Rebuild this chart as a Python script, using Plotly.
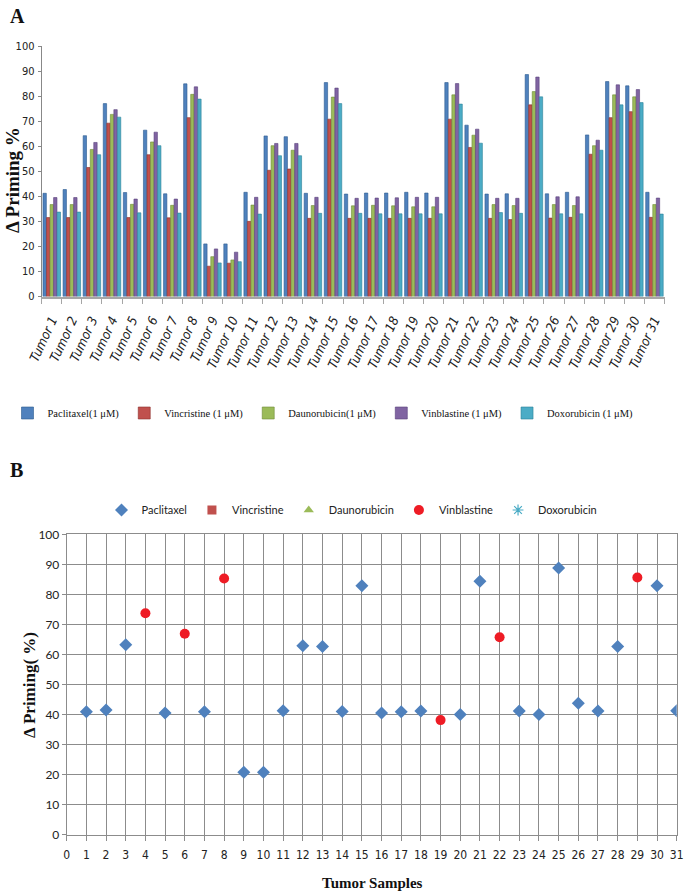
import plotly.graph_objects as go

# ---------------- Data: panel A (bar chart) ----------------
tumors = [f"Tumor {i}" for i in range(1, 32)]
paclitaxel_a = [41.2, 42.7, 64.2, 77.0, 41.5, 66.4, 41.0, 84.9, 21.0, 21.0, 41.6, 64.1, 63.8, 41.2, 85.4, 40.9,
                41.3, 41.3, 41.6, 41.3, 85.4, 68.4, 40.9, 41.0, 88.6, 41.0, 41.6, 64.5, 85.8, 84.1, 41.6]
vincristine_a = [31.5, 31.5, 51.5, 69.2, 31.5, 56.6, 31.4, 71.4, 12.1, 13.3, 30.0, 50.4, 50.9, 31.2, 70.8, 31.2,
                 31.2, 31.2, 31.2, 31.2, 70.8, 59.5, 31.2, 30.7, 76.5, 31.3, 31.6, 56.8, 71.4, 73.8, 31.6]
daunorubicin_a = [36.7, 36.7, 58.7, 72.7, 36.8, 61.7, 36.4, 80.7, 15.9, 14.6, 36.5, 60.2, 58.4, 36.3, 79.6, 36.2,
                  36.4, 36.2, 35.8, 35.8, 80.5, 64.4, 36.7, 36.3, 81.8, 36.7, 36.3, 60.2, 80.5, 79.7, 36.7]
vinblastine_a = [39.5, 39.5, 61.5, 74.6, 38.9, 65.6, 38.9, 83.7, 19.0, 17.7, 39.6, 61.1, 61.1, 39.6, 83.2, 39.2,
                 39.3, 39.4, 39.6, 39.6, 85.0, 66.8, 39.2, 39.2, 87.6, 39.8, 39.8, 62.4, 84.5, 82.6, 39.3]
doxorubicin_a = [33.7, 33.7, 56.6, 71.6, 33.4, 60.2, 33.3, 78.8, 13.4, 13.9, 32.9, 56.2, 56.2, 33.2, 77.0, 33.2,
                 33.0, 33.0, 33.0, 33.0, 76.8, 61.2, 33.5, 33.2, 79.7, 33.0, 33.0, 58.4, 76.5, 77.4, 32.9]
names_a = ["Paclitaxel(1 μM)", "Vincristine (1 μM)", "Daunorubicin(1 μM)", "Vinblastine (1 μM)", "Doxorubicin (1 μM)"]

# ---------------- Data: panel B (scatter) ----------------
pac_x = [1, 2, 3, 5, 7, 9, 10, 11, 12, 13, 14, 15, 16, 17, 18, 20, 21, 23, 24, 25, 26, 27, 28, 30, 31]
pac_y = [40.9, 41.5, 63.2, 40.5, 40.9, 20.7, 20.7, 41.2, 62.9, 62.6, 41.0, 82.9, 40.5, 40.9, 41.1, 40.0, 84.4,
         41.1, 40.0, 88.8, 43.7, 41.1, 62.6, 82.9, 41.2]
vbl_x = [4, 6, 8, 19, 22, 29]
vbl_y = [73.7, 66.9, 85.3, 38.1, 65.7, 85.6]
# series present in the legend only (no plotted points)
vcr_x, vcr_y = [], []
dnr_x, dnr_y = [], []
dox_x, dox_y = [], []

colors = ["#4F81BD", "#C0504D", "#9BBB59", "#8064A2", "#4BACC6"]
edges = ["#2C5A8E", "#8C2F2C", "#6E8C37", "#573F7A", "#2A8199"]

W, H = 685, 895
def px(x): return x / W
def py(y): return 1 - y / H
def keep(v): return v if len(v) else [None]

NARROW = "Liberation Sans Narrow, DejaVu Sans Condensed, Roboto Condensed, Arial Narrow, Liberation Sans, sans-serif"
SERIF = "Liberation Serif, Times New Roman, serif"
SANS = "Lato, Carlito, Calibri, sans-serif"

fig = go.Figure()
for vals, nm, c, e in zip([paclitaxel_a, vincristine_a, daunorubicin_a, vinblastine_a, doxorubicin_a],
                          names_a, colors, edges):
    fig.add_trace(go.Bar(x=tumors, y=vals, name=nm, marker=dict(color=c, line=dict(color=e, width=0.6)),
                         xaxis="x", yaxis="y", legend="legend"))

fig.add_trace(go.Scatter(x=pac_x, y=pac_y, mode="markers", name="Paclitaxel",
                         marker=dict(symbol="diamond", size=10, color="#4F81BD"),
                         xaxis="x2", yaxis="y2", legend="legend2"))
fig.add_trace(go.Scatter(x=keep(vcr_x), y=keep(vcr_y), mode="markers", name="Vincristine",
                         marker=dict(symbol="square", size=9, color="#C0504D"),
                         xaxis="x2", yaxis="y2", legend="legend2"))
fig.add_trace(go.Scatter(x=keep(dnr_x), y=keep(dnr_y), mode="markers", name="Daunorubicin",
                         marker=dict(symbol="triangle-up", size=9, color="#9BBB59"),
                         xaxis="x2", yaxis="y2", legend="legend2"))
fig.add_trace(go.Scatter(x=vbl_x, y=vbl_y, mode="markers", name="Vinblastine",
                         marker=dict(symbol="circle", size=10, color="#EE1C25"),
                         xaxis="x2", yaxis="y2", legend="legend2"))
fig.add_trace(go.Scatter(x=keep(dox_x), y=keep(dox_y), mode="markers", name="Doxorubicin",
                         marker=dict(symbol="asterisk-open", size=9, color="#4BACC6",
                                     line=dict(color="#4BACC6", width=1.2)),
                         xaxis="x2", yaxis="y2", legend="legend2"))

fig.update_layout(
    template="none",
    width=W, height=H, margin=dict(l=0, r=0, t=0, b=0, autoexpand=False),
    paper_bgcolor="white", plot_bgcolor="white",
    barmode="group", bargap=0.12, bargroupgap=0.05,
    showlegend=True,
    xaxis=dict(domain=[px(41.7), px(664.5)], anchor="y", type="category", automargin=False,
               showline=True, linecolor="#A6A6A6", linewidth=2,
               ticks="outside", tickson="boundaries", ticklen=5, tickcolor="#A6A6A6",
               ticklabelstandoff=9,
               tickangle=-65, tickfont=dict(family=NARROW, size=13, color="#222", style="italic"),
               showgrid=False),
    yaxis=dict(domain=[py(296.5), py(46)], anchor="x", range=[0, 100], dtick=10, automargin=False,
               showline=True, linecolor="#888", linewidth=1, ticks="outside", ticklen=3,
               tickcolor="#888", showgrid=False, zeroline=False, ticklabelstandoff=1,
               tickfont=dict(family=NARROW, size=11, color="#222")),
    xaxis2=dict(domain=[px(66.7), px(676.7)], anchor="y2", range=[0, 31], dtick=1, automargin=False,
                showgrid=True, gridcolor="#8C8C8C", gridwidth=1, zeroline=False,
                showline=True, linecolor="#8C8C8C", mirror=True,
                ticks="outside", ticklen=5, tickcolor="#8C8C8C", ticklabelstandoff=4,
                tickfont=dict(family=NARROW, size=12, color="#222")),
    yaxis2=dict(domain=[py(834.5), py(534.3)], anchor="x2", range=[0, 100], dtick=10, automargin=False,
                showgrid=True, gridcolor="#8C8C8C", gridwidth=1, zeroline=False,
                showline=True, linecolor="#8C8C8C", mirror=True,
                ticks="outside", ticklen=4, tickcolor="#8C8C8C",
                tickfont=dict(family=SANS, size=12, color="#222")),
    legend=dict(orientation="h", x=px(323), xanchor="center", y=py(413), yanchor="middle",
                font=dict(family=SERIF, size=10.5, color="#111"), itemwidth=30,
                tracegroupgap=0, bgcolor="rgba(0,0,0,0)"),
    legend2=dict(orientation="h", x=px(352), xanchor="center", y=py(510), yanchor="middle",
                 font=dict(family=SANS, size=11, color="#222"), itemwidth=30,
                 bgcolor="rgba(0,0,0,0)"),
    annotations=[
        dict(text="<b>A</b>", x=px(8), y=py(3), xref="paper", yref="paper", xanchor="left", yanchor="top",
             showarrow=False, font=dict(family=SERIF, size=20, color="#111")),
        dict(text="<b>B</b>", x=px(8), y=py(457), xref="paper", yref="paper", xanchor="left", yanchor="top",
             showarrow=False, font=dict(family=SERIF, size=20, color="#111")),
        dict(text="<b>Δ Priming %</b>", x=px(12), y=py(180), xref="paper", yref="paper",
             xanchor="center", yanchor="middle", textangle=-90, showarrow=False,
             font=dict(family=SERIF, size=19, color="#111")),
        dict(text="<b>Δ Priming( %)</b>", x=px(29), y=py(685), xref="paper", yref="paper",
             xanchor="center", yanchor="middle", textangle=-90, showarrow=False,
             font=dict(family=SERIF, size=17, color="#111")),
        dict(text="<b>Tumor Samples</b>", x=px(372), y=py(883), xref="paper", yref="paper",
             xanchor="center", yanchor="middle", showarrow=False,
             font=dict(family=SERIF, size=15, color="#111")),
    ],
)

fig.write_html("out.html", config={"displayModeBar": False},
               post_script="document.body.style.margin='0px';document.body.style.padding='0px';"
                           "document.body.style.overflow='hidden';")
